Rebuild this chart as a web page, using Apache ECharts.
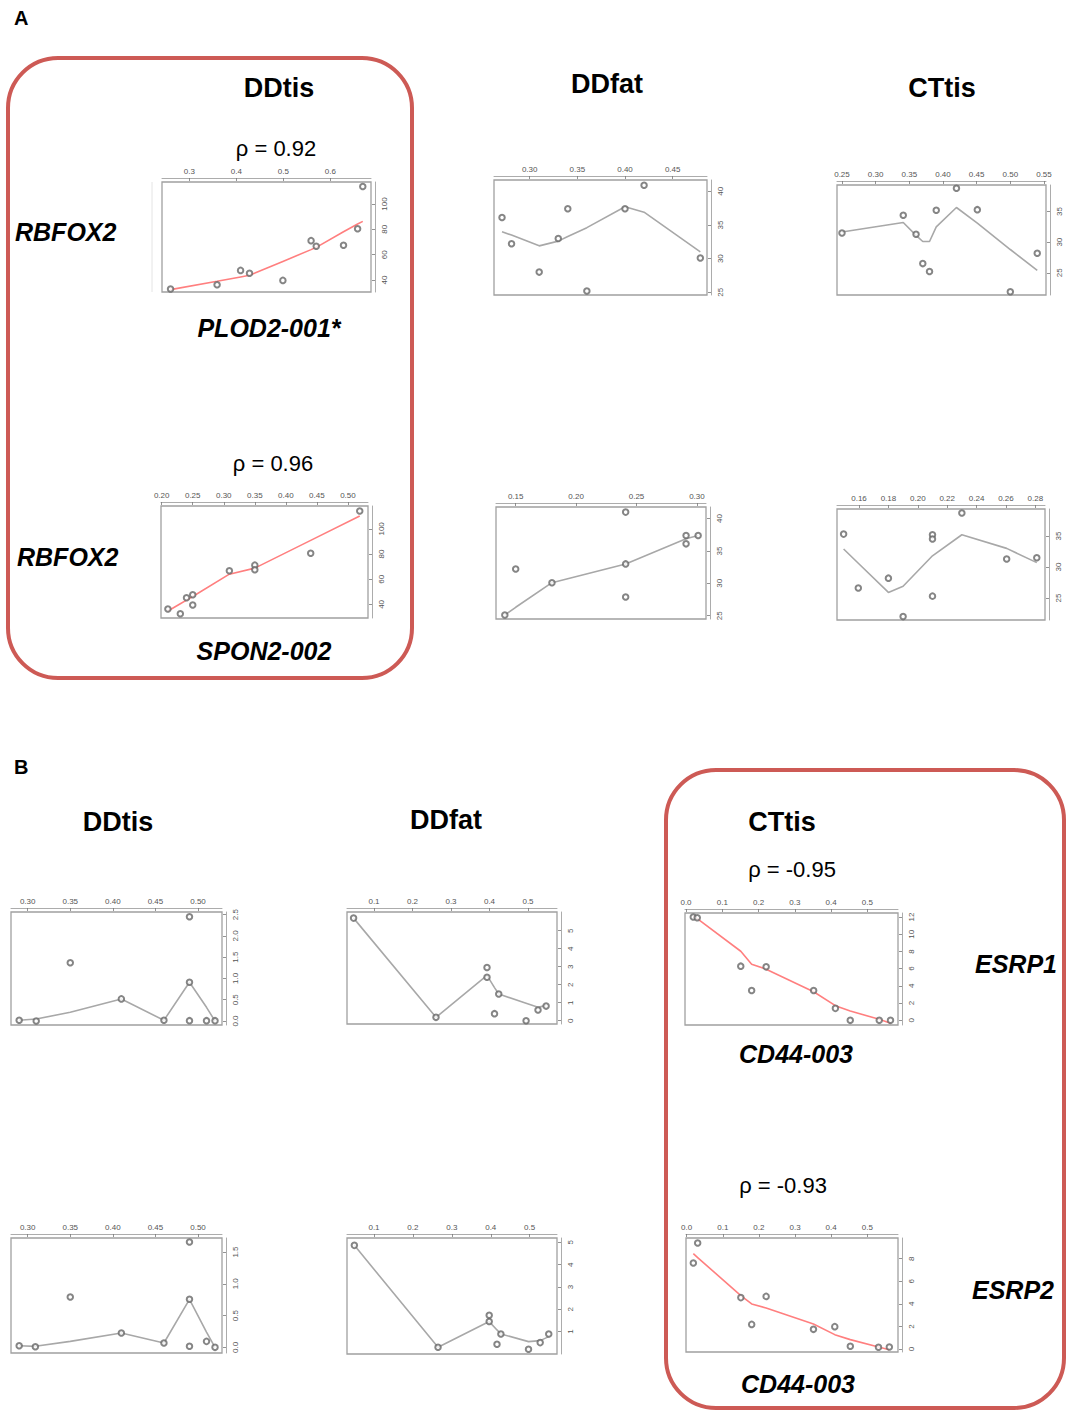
<!DOCTYPE html>
<html><head><meta charset="utf-8">
<script src="https://cdn.jsdelivr.net/npm/echarts@6/dist/echarts.min.js"></script>
<style>html,body{margin:0;padding:0;background:#fff}#c{width:1067px;height:1411px}</style>
</head><body><div id="c"></div>
<script>
// ---------- DATA ----------
// Panel A, row 1 (RBFOX2 vs PLOD2-001*)
const a1X   = [0.260,0.359,0.409,0.428,0.499,0.559,0.570,0.628,0.658,0.669];
const a1Y   = [32.9,36.3,47.6,45.3,39.7,71.1,66.6,67.4,80.5,113.9];
const a1Fit = [32.4,39.0,42.4,43.7,54.7,64.0,65.8,78.1,84.2,86.3];
const a1XTicks = ['0.3','0.4','0.5','0.6'];
const a1YTicks = ['40','60','80','100'];

const a2X   = [0.271,0.281,0.310,0.330,0.340,0.360,0.400,0.420,0.479];
const a2Y   = [36.1,32.2,28.0,33.0,37.4,25.2,37.4,40.9,30.1];
const a2Fit = [34.0,33.5,31.9,32.6,33.3,34.6,37.7,36.9,31.0];
const a2XTicks = ['0.30','0.35','0.40','0.45'];
const a2YTicks = ['25','30','35','40'];

const a3X   = [0.250,0.341,0.360,0.370,0.380,0.390,0.420,0.451,0.500,0.540];
const a3Y   = [31.5,34.4,31.3,26.5,25.2,35.2,38.8,35.3,21.9,28.2];
const a3Fit = [31.65,33.2,31.1,30.1,30.1,32.5,35.65,33.1,28.8,25.4];
const a3XTicks = ['0.25','0.30','0.35','0.40','0.45','0.50','0.55'];
const a3YTicks = ['25','30','35'];

// Panel A, row 2 (RBFOX2 vs SPON2-002)
const a4X   = [0.210,0.230,0.240,0.250,0.250,0.309,0.350,0.350,0.440,0.519];
const a4Y   = [36.3,32.6,45.3,47.7,39.5,66.7,71.2,67.5,80.7,114.2];
const a4Fit = [34.7,40.5,43.4,46.3,46.3,64.0,68.8,68.8,90.9,110.3];
const a4XTicks = ['0.20','0.25','0.30','0.35','0.40','0.45','0.50'];
const a4YTicks = ['40','60','80','100'];

const a5X   = [0.141,0.150,0.180,0.241,0.241,0.241,0.291,0.291,0.301];
const a5Y   = [25.1,32.2,30.1,41.0,33.0,27.9,37.4,36.1,37.4];
const a5Fit = [25.1,26.3,30.1,33.0,33.0,33.0,36.9,36.9,37.4];
const a5XTicks = ['0.15','0.20','0.25','0.30'];
const a5YTicks = ['25','30','35','40'];

const a6X   = [0.1495,0.1595,0.180,0.190,0.210,0.210,0.210,0.230,0.2605,0.281];
const a6Y   = [35.3,26.6,28.2,22.0,35.2,34.5,25.3,38.7,31.3,31.5];
const a6Fit = [32.9,30.6,25.9,26.9,31.8,31.8,31.8,35.2,33.0,30.7];
const a6XTicks = ['0.16','0.18','0.20','0.22','0.24','0.26','0.28'];
const a6YTicks = ['25','30','35'];

// Panel B, row 1 (ESRP1 vs CD44-003)
const b1X   = [0.290,0.310,0.350,0.410,0.460,0.490,0.490,0.490,0.510,0.520];
const b1Y   = [0.016,0.0,1.37,0.52,0.016,2.45,0.91,0.008,0.008,0.008];
const b1Fit = [0.016,0.047,0.204,0.519,0.016,0.912,0.912,0.912,0.322,0.0];
const b1XTicks = ['0.30','0.35','0.40','0.45','0.50'];
const b1YTicks = ['0.0','0.5','1.0','1.5','2.0','2.5'];

const b2X   = [0.047,0.261,0.3935,0.3935,0.413,0.424,0.495,0.526,0.547];
const b2Y   = [5.70,0.185,2.96,2.41,0.39,1.48,0.0,0.59,0.81];
const b2Fit = [5.70,0.185,2.52,2.52,1.84,1.48,0.97,0.74,0.85];
const b2XTicks = ['0.1','0.2','0.3','0.4','0.5'];
const b2YTicks = ['0','1','2','3','4','5'];

const b3X   = [0.020,0.031,0.151,0.181,0.221,0.352,0.412,0.453,0.533,0.564];
const b3Y   = [12.0,11.9,6.29,3.47,6.21,3.47,1.39,0.0,0.0,0.0];
const b3Fit = [12.08,11.8,8.02,6.52,5.94,3.32,1.70,1.08,0.12,-0.35];
const b3XTicks = ['0.0','0.1','0.2','0.3','0.4','0.5'];
const b3YTicks = ['0','2','4','6','8','10','12'];

// Panel B, row 2 (ESRP2 vs CD44-003)
const b4X   = [0.290,0.309,0.350,0.410,0.460,0.490,0.490,0.490,0.510,0.520];
const b4Y   = [0.026,0.010,0.792,0.226,0.068,1.658,0.756,0.016,0.094,0.0];
const b4Fit = [0.026,0.016,0.094,0.226,0.068,0.756,0.756,0.756,0.24,0.0];
const b4XTicks = ['0.30','0.35','0.40','0.45','0.50'];
const b4YTicks = ['0.0','0.5','1.0','1.5'];

const b5X   = [0.0495,0.2645,0.396,0.396,0.416,0.426,0.497,0.527,0.549];
const b5Y   = [4.865,0.296,1.734,1.449,0.431,0.895,0.206,0.506,0.895];
const b5Fit = [4.865,0.296,1.449,1.449,1.075,0.895,0.551,0.596,0.775];
const b5XTicks = ['0.1','0.2','0.3','0.4','0.5'];
const b5YTicks = ['1','2','3','4','5'];

const b6X   = [0.0185,0.0305,0.150,0.180,0.220,0.351,0.410,0.453,0.531,0.561];
const b6Y   = [7.62,9.39,4.55,2.18,4.66,1.74,1.98,0.24,0.15,0.18];
const b6Fit = [8.44,8.10,4.72,3.99,3.63,2.21,1.27,0.83,0.18,-0.06];
const b6XTicks = ['0.0','0.1','0.2','0.3','0.4','0.5'];
const b6YTicks = ['0','2','4','6','8'];

// ---------- LAYOUT ----------
const panels = [
 {x:a1X,y:a1Y,fit:a1Fit,xt:a1XTicks,yt:a1YTicks,red:true, g:[162,182,209,110], xr:[0.2418,0.6865], yr:[30.53,117.4]},
 {x:a2X,y:a2Y,fit:a2Fit,xt:a2XTicks,yt:a2YTicks,red:false,g:[494,180,213,115], xr:[0.2626,0.486],  yr:[24.60,41.68]},
 {x:a3X,y:a3Y,fit:a3Fit,xt:a3XTicks,yt:a3YTicks,red:false,g:[837,185,209,110], xr:[0.2426,0.553],  yr:[21.38,39.32]},
 {x:a4X,y:a4Y,fit:a4Fit,xt:a4XTicks,yt:a4YTicks,red:true, g:[161,506,207,112], xr:[0.1989,0.5323], yr:[29.17,118.2]},
 {x:a5X,y:a5Y,fit:a5Fit,xt:a5XTicks,yt:a5YTicks,red:false,g:[496,507,210,112], xr:[0.1337,0.3075], yr:[24.49,41.79]},
 {x:a6X,y:a6Y,fit:a6Fit,xt:a6XTicks,yt:a6YTicks,red:false,g:[837,509,208,111], xr:[0.145,0.2866],  yr:[21.45,39.35]},
 {x:b1X,y:b1Y,fit:b1Fit,xt:b1XTicks,yt:b1YTicks,red:false,g:[11,912,211,113],  xr:[0.2804,0.5282], yr:[-0.094,2.563]},
 {x:b2X,y:b2Y,fit:b2Fit,xt:b2XTicks,yt:b2YTicks,red:false,g:[347,912,210,112], xr:[0.0299,0.5753], yr:[-0.185,6.04]},
 {x:b3X,y:b3Y,fit:b3Fit,xt:b3XTicks,yt:b3YTicks,red:true, g:[685,913,213,112], xr:[-0.0028,0.5847],yr:[-0.54,12.46]},
 {x:b4X,y:b4Y,fit:b4Fit,xt:b4XTicks,yt:b4YTicks,red:false,g:[11,1238,211,115], xr:[0.2804,0.5282], yr:[-0.089,1.721]},
 {x:b5X,y:b5Y,fit:b5Fit,xt:b5XTicks,yt:b5YTicks,red:false,g:[347,1238,210,116],xr:[0.0306,0.5702], yr:[-0.004,5.195]},
 {x:b6X,y:b6Y,fit:b6Fit,xt:b6XTicks,yt:b6YTicks,red:true, g:[686,1238,212,114],xr:[-0.0018,0.585], yr:[-0.266,9.83]}
];

const tickFont = {fontSize:8, color:'#555', fontFamily:'"Liberation Sans", Arial, sans-serif'};
function fmt(strs){ return v => { const s = strs.find(t => Math.abs(parseFloat(t)-v) < 1e-9); return s === undefined ? '' : s; }; }

const grid=[], xAxis=[], yAxis=[], series=[];
panels.forEach((p,i)=>{
  grid.push({left:p.g[0], top:p.g[1], width:p.g[2], height:p.g[3], show:true, borderColor:'#a0a0a0', borderWidth:1.3, containLabel:false});
  const xv = p.xt.map(Number), yv = p.yt.map(Number);
  xAxis.push({type:'value', gridIndex:i, position:'top', offset:4, min:p.xr[0], max:p.xr[1],
    axisLine:{show:true, onZero:false, lineStyle:{color:'#888', width:0.7}},
    axisTick:{show:true, inside:true, length:3, customValues:xv, lineStyle:{color:'#777', width:0.8}},
    axisLabel:Object.assign({show:true, margin:3, customValues:xv, formatter:fmt(p.xt), showMinLabel:true, showMaxLabel:true}, tickFont),
    splitLine:{show:false}});
  yAxis.push({type:'value', gridIndex:i, position:'right', offset:4, min:p.yr[0], max:p.yr[1],
    axisLine:{show:true, onZero:false, lineStyle:{color:'#888', width:0.7}},
    axisTick:{show:true, inside:true, length:3, customValues:yv, lineStyle:{color:'#777', width:0.8}},
    axisLabel:Object.assign({show:true, margin:5, rotate:90, customValues:yv, formatter:fmt(p.yt), showMinLabel:true, showMaxLabel:true}, tickFont),
    splitLine:{show:false}});
  series.push({type:'line', xAxisIndex:i, yAxisIndex:i, data:p.x.map((v,k)=>[v,p.fit[k]]), showSymbol:false, symbol:'none',
    lineStyle:{color:p.red?'#ff7f7f':'#a8a8a8', width:1.6}, z:3, silent:true});
  series.push({type:'scatter', xAxisIndex:i, yAxisIndex:i, data:p.x.map((v,k)=>[v,p.y[k]]), symbol:'emptyCircle', symbolSize:5.5,
    itemStyle:{color:'#666', borderWidth:0.6}, z:4, silent:true});
});

const F = '"Liberation Sans", Arial, Helvetica, sans-serif';
function txt(t,x,y,size,weight,style,align){
  return {type:'text', x:x, y:y, style:{text:t, fill:'#000', font:(style||'normal')+' '+weight+' '+size+'px '+F, align:align||'center', verticalAlign:'middle'}, z:10};
}
const red = '#cd5a55';
const graphic = [
  {type:'rect', shape:{x:8, y:58, width:404, height:620, r:50}, style:{fill:'none', stroke:red, lineWidth:4}, z:1},
  {type:'rect', shape:{x:666, y:770, width:398, height:638, r:50}, style:{fill:'none', stroke:red, lineWidth:4}, z:1},
  {type:'line', shape:{x1:152, y1:182, x2:152, y2:292}, style:{stroke:'#e4e4e4', lineWidth:1}, z:1},
  txt('A',14,18,20,'bold','normal','left'),
  txt('B',14,767,20,'bold','normal','left'),
  txt('DDtis',279,88,27,'bold'),
  txt('DDfat',607,84,27,'bold'),
  txt('CTtis',942,88,27,'bold'),
  txt('DDtis',118,822,27,'bold'),
  txt('DDfat',446,820,27,'bold'),
  txt('CTtis',782,822,27,'bold'),
  txt('ρ = 0.92',276,148,22,'normal'),
  txt('ρ = 0.96',273,463,22,'normal'),
  txt('ρ = -0.95',792,869,22,'normal'),
  txt('ρ = -0.93',783,1185,22,'normal'),
  txt('RBFOX2',15,232,25,'bold','italic','left'),
  txt('RBFOX2',17,557,25,'bold','italic','left'),
  txt('PLOD2-001*',269,328,25,'bold','italic'),
  txt('SPON2-002',264,651,25,'bold','italic'),
  txt('ESRP1',1016,964,25,'bold','italic'),
  txt('ESRP2',1013,1290,25,'bold','italic'),
  txt('CD44-003',796,1054,25,'bold','italic'),
  txt('CD44-003',798,1384,25,'bold','italic')
];

const chart = echarts.init(document.getElementById('c'), null, {renderer:'svg', width:1067, height:1411});
chart.setOption({animation:false, backgroundColor:'#fff', grid, xAxis, yAxis, series, graphic});
</script></body></html>
